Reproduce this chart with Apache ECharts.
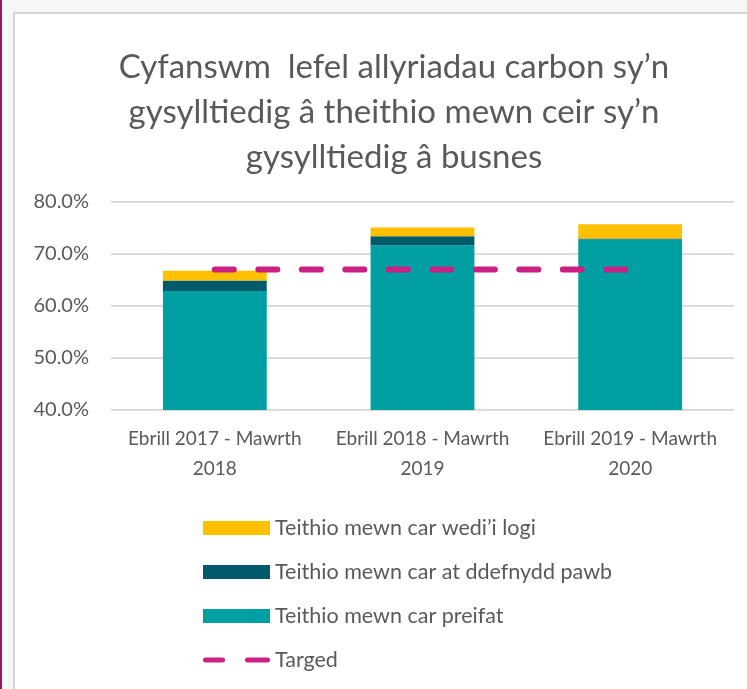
<!DOCTYPE html>
<html>
<head>
<meta charset="utf-8">
<script src="https://cdn.jsdelivr.net/npm/echarts@6/dist/echarts.min.js"></script>
<style>
  html, body { margin: 0; padding: 0; }
  body { width: 747px; height: 689px; background: #f6f6f6; position: relative; overflow: hidden; }
  #edge { position: absolute; left: 0; top: 0; width: 2px; height: 689px; background: #95195a; }
  #panel { position: absolute; left: 13px; top: 12px; right: 0; bottom: 0; background: #fff;
           border-left: 2px solid #d6d6d6; border-top: 2px solid #d6d6d6; }
  #main { position: absolute; left: 0; top: 0; width: 747px; height: 689px; }
</style>
</head>
<body>
<div id="edge"></div>
<div id="panel"></div>
<div id="main"></div>
<script>
// categories (blynyddoedd)
var categories = ['Ebrill 2017 - Mawrth\n2018', 'Ebrill 2018 - Mawrth\n2019', 'Ebrill 2019 - Mawrth\n2020'];

// series values, %
var preifat = [62.9, 71.7, 72.8];
var pawb = [2.0, 1.7, 0.2];
var logi = [1.9, 1.7, 2.7];
var targed = [67.0, 67.0, 67.0];

// y axis ticks
var yMin = 40;
var yMax = 80;
var yStep = 10;

var names = ['Teithio mewn car wedi\u2019i logi', 'Teithio mewn car at ddefnydd pawb', 'Teithio mewn car preifat', 'Targed'];

var font = 'Lato';
var textColor = '#595959';
var pink = '#CC1F82';

// two round-ended dashes for the Targed key
var dashIcon = 'path://M2.5,0 h17 a2.5,2.5 0 0 1 0,5 h-17 a2.5,2.5 0 0 1 0,-5 z' +
  ' M44.5,0 h20 a2.5,2.5 0 0 1 0,5 h-20 a2.5,2.5 0 0 1 0,-5 z';

var chart = echarts.init(document.getElementById('main'), null, { renderer: 'canvas' });

var legendText = { fontFamily: font, fontSize: 21.5, color: textColor, lineHeight: 22 };

var option = {
  backgroundColor: 'transparent',
  animation: false,
  title: {
    text: 'Cyfanswm  lefel allyriadau carbon sy\u2019n\ngysylltiedig \u00e2 theithio mewn ceir sy\u2019n\ngysylltiedig \u00e2 busnes',
    left: 389,
    textAlign: 'center',
    top: 40,
    textStyle: {
      fontFamily: font,
      fontSize: 33,
      fontWeight: 'normal',
      lineHeight: 45,
      color: textColor
    }
  },
  legend: [
    {
      orient: 'vertical',
      left: 198,
      top: 512,
      itemWidth: 67,
      itemHeight: 14,
      itemGap: 22,
      icon: 'rect',
      data: names.slice(0, 3),
      textStyle: legendText
    },
    {
      orient: 'vertical',
      left: 198,
      top: 644,
      itemWidth: 67,
      itemHeight: 6,
      data: [{ name: names[3], icon: dashIcon }],
      textStyle: legendText
    }
  ],
  grid: { left: 111, right: 13, top: 202, bottom: 279 },
  xAxis: {
    type: 'category',
    data: categories,
    axisLine: { show: false },
    axisTick: { show: false },
    axisLabel: {
      interval: 0,
      margin: 14,
      fontFamily: font,
      fontSize: 19,
      lineHeight: 30,
      color: textColor
    }
  },
  yAxis: {
    type: 'value',
    min: yMin,
    max: yMax,
    interval: yStep,
    axisLine: { show: false },
    axisTick: { show: false },
    axisLabel: {
      margin: 22,
      fontFamily: font,
      fontSize: 20,
      color: textColor,
      formatter: function (v) { return v.toFixed(1) + '%'; }
    },
    splitLine: { lineStyle: { color: '#dcdcdc', width: 2 } }
  },
  series: [
    {
      name: names[2],
      type: 'bar',
      stack: 'cyfanswm',
      barWidth: '50%',
      data: preifat,
      itemStyle: { color: '#00A0A2' }
    },
    {
      name: names[1],
      type: 'bar',
      stack: 'cyfanswm',
      data: pawb,
      itemStyle: { color: '#015A6A' }
    },
    {
      name: names[0],
      type: 'bar',
      stack: 'cyfanswm',
      data: logi,
      itemStyle: { color: '#FFC000' }
    },
    {
      name: names[3],
      type: 'line',
      data: targed,
      symbol: 'none',
      z: 5,
      itemStyle: { color: pink },
      lineStyle: { color: pink, width: 6, type: [19, 24.5], cap: 'round' }
    }
  ]
};

chart.setOption(option);
</script>
</body>
</html>
